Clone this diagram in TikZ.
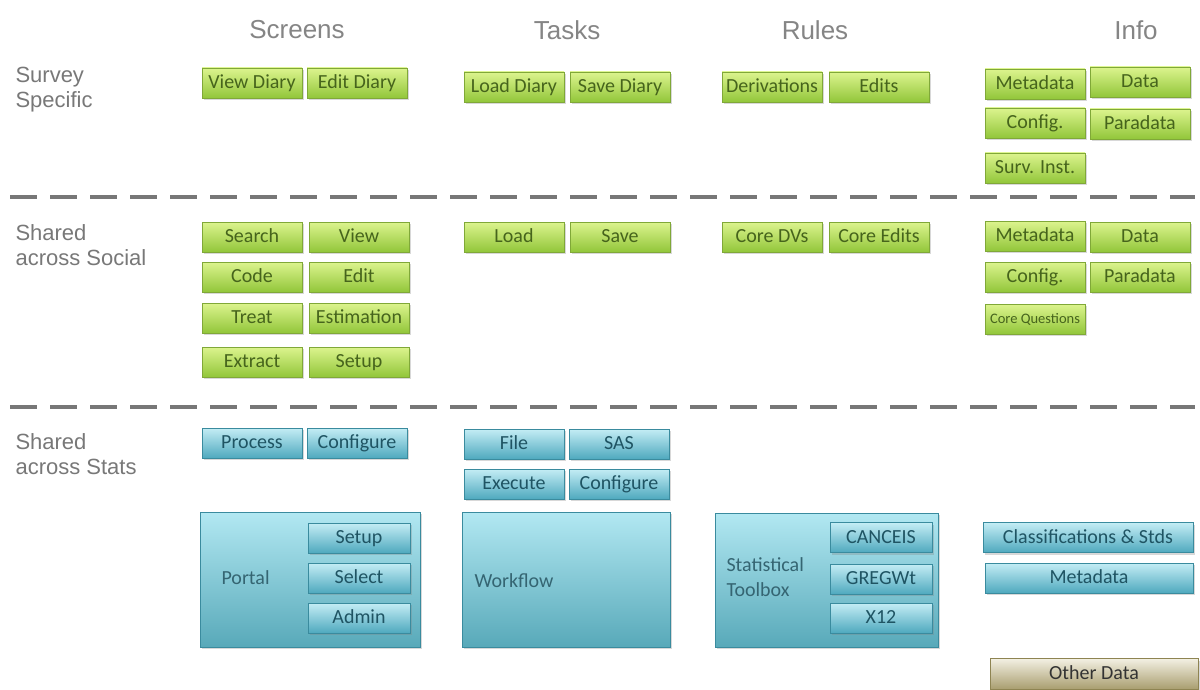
\documentclass[tikz,border=0pt]{standalone}
\usepackage{fontspec}
\usetikzlibrary{shadows}
\newfontfamily\boxfont{Carlito}
\newfontfamily\headfont{Liberation Sans}
\definecolor{greentop}{HTML}{DCF48E}
\definecolor{greenbot}{HTML}{92C63A}
\definecolor{greenline}{HTML}{80A838}
\definecolor{greentext}{HTML}{46641C}
\definecolor{bluetop}{HTML}{C4EDF5}
\definecolor{bluebot}{HTML}{4FA9BE}
\definecolor{blueline}{HTML}{3A8B9E}
\definecolor{bluetext}{HTML}{1F5463}
\definecolor{bigtop}{HTML}{B2E8F2}
\definecolor{bigbot}{HTML}{58A9B9}
\definecolor{tantop}{HTML}{F3F0E3}
\definecolor{tanbot}{HTML}{A89D6E}
\definecolor{tanline}{HTML}{8E8452}
\definecolor{headgray}{HTML}{858585}
\definecolor{dashgray}{HTML}{777777}
\tikzset{
  gbox/.style={draw=greenline, top color=greentop, bottom color=greenbot,
    text=greentext, minimum width=100pt, minimum height=30pt, inner sep=1pt,
    text height=14pt, text depth=3pt,
    font=\boxfont\fontsize{20}{22}\selectfont,
    drop shadow={shadow xshift=2pt, shadow yshift=-2pt, opacity=0.3}},
  bbox/.style={gbox, draw=blueline, top color=bluetop, bottom color=bluebot,
    text=bluetext},
  bigbox/.style={draw=blueline, top color=bigtop, bottom color=bigbot,
    minimum height=135pt, inner sep=0pt,
    drop shadow={shadow xshift=2pt, shadow yshift=-2pt, opacity=0.3}},
  biglabel/.style={anchor=west, text=bluetext!90!white, align=left,
    font=\boxfont\fontsize{20}{25}\selectfont},
  obox/.style={gbox, draw=tanline, top color=tantop, bottom color=tanbot,
    text=black!80},
  colhead/.style={text=headgray, font=\headfont\fontsize{26}{30}\selectfont},
  rowhead/.style={anchor=west, align=left, text=headgray!90!black,
    font=\headfont\fontsize{22}{25}\selectfont},
  divider/.style={dashgray, line width=3.5pt, dash pattern=on 27pt off 13pt}
}
\begin{document}
\begin{tikzpicture}[x=1pt,y=-1pt]
  \useasboundingbox[fill=white] (0,0) rectangle (1200,690);
  % column and row headings
  \node[colhead] (hscreens) at (297,30) {Screens};
  \node[colhead] (htasks) at (567,30) {Tasks};
  \node[colhead] (hrules) at (815,30) {Rules};
  \node[colhead] (hinfo) at (1136,30) {Info};
  \node[rowhead] (rspecific) at (12,90) {Survey\\Specific};
  \node[rowhead] (rsocial) at (12,245) {Shared\\across Social};
  \node[rowhead] (rstats) at (12,454) {Shared\\across Stats};
  % dashed dividers
  \draw[divider] (10,197) -- (1195,197);
  \draw[divider] (10,407) -- (1195,407);

  % survey specific
  \node[gbox] (vdiary) at (252,83) {View Diary};
  \node[gbox] (ediary) at (357,83) {Edit Diary};
  \node[gbox] (ldiary) at (514,87) {Load Diary};
  \node[gbox] (sdiary) at (620,87) {Save Diary};
  \node[gbox] (deriv) at (772,87) {Derivations};
  \node[gbox] (edits) at (879,87) {Edits};
  \node[gbox] (metaa) at (1035,84) {Metadata};
  \node[gbox] (dataa) at (1140,82) {Data};
  \node[gbox] (configa) at (1035,123) {Config.};
  \node[gbox] (paraa) at (1140,124) {Paradata};
  \node[gbox] (survinst) at (1035,168) {Surv. Inst.};

  % shared across social
  \node[gbox] (search) at (252,237) {Search};
  \node[gbox] (view) at (359,237) {View};
  \node[gbox] (code) at (252,277) {Code};
  \node[gbox] (edit) at (359,277) {Edit};
  \node[gbox] (treat) at (252,318) {Treat};
  \node[gbox] (estim) at (359,318) {Estimation};
  \node[gbox] (extract) at (252,362) {Extract};
  \node[gbox] (setupa) at (359,362) {Setup};
  \node[gbox] (load) at (514,237) {Load};
  \node[gbox] (save) at (620,237) {Save};
  \node[gbox] (coredv) at (772,237) {Core DVs};
  \node[gbox] (coreed) at (879,237) {Core Edits};
  \node[gbox] (metab) at (1035,236) {Metadata};
  \node[gbox] (datab) at (1140,237) {Data};
  \node[gbox] (configb) at (1035,277) {Config.};
  \node[gbox] (parab) at (1140,277) {Paradata};
  \node[gbox, font=\boxfont\fontsize{14.5}{16}\selectfont, text height=10pt, text depth=2pt] (coreq) at (1035,319) {Core Questions};

  % shared across stats
  \node[bbox] (process) at (252,443) {Process};
  \node[bbox] (configc) at (357,443) {Configure};
  \node[bbox] (file) at (514,444) {File};
  \node[bbox] (sas) at (619,444) {SAS};
  \node[bbox] (exec) at (514,484) {Execute};
  \node[bbox] (configd) at (619,484) {Configure};

  \node[bigbox, minimum width=220pt] (portal) at (310,579.5) {};
  \node[biglabel] (portaltxt) at (218,578) {Portal};
  \node[bbox, minimum width=102pt] (setupb) at (359,538) {Setup};
  \node[bbox, minimum width=102pt] (select) at (359,578) {Select};
  \node[bbox, minimum width=102pt] (admin) at (359,618) {Admin};

  \node[bigbox, minimum width=208pt] (workflow) at (566,579.5) {};
  \node[biglabel] (workflowtxt) at (471,581) {Workflow};

  \node[bigbox, minimum width=223pt, minimum height=134pt] (toolbox) at (826.5,580) {};
  \node[biglabel] (toolboxtxt) at (723,577) {Statistical\\Toolbox};
  \node[bbox, minimum width=102pt] (canceis) at (881,537.5) {CANCEIS};
  \node[bbox, minimum width=102pt] (gregwt) at (881,579) {GREGWt};
  \node[bbox, minimum width=102pt] (xtwelve) at (881,618) {X12};

  \node[bbox, minimum width=210pt] (classif) at (1088,537.5) {Classifications \& Stds};
  \node[bbox, minimum width=208pt] (metac) at (1089,578) {Metadata};
  \node[obox, minimum width=208pt, minimum height=31pt] (other) at (1094,674) {Other Data};
\end{tikzpicture}
\end{document}
